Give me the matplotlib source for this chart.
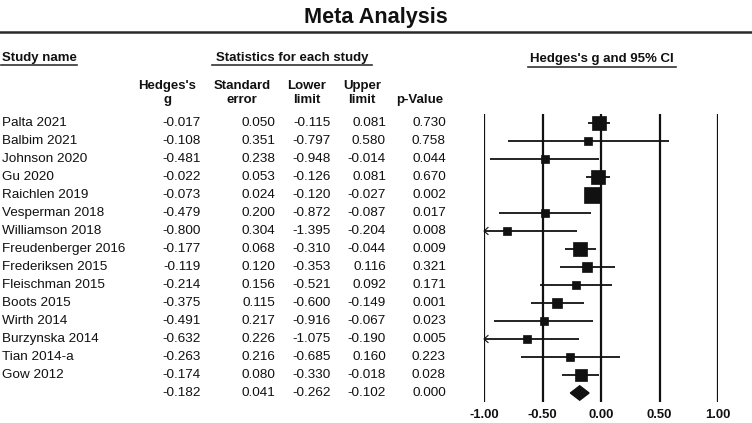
import numpy as np
import matplotlib
matplotlib.use("Agg")
import matplotlib.pyplot as plt
from matplotlib import transforms
from matplotlib.lines import Line2D
from matplotlib.patches import Polygon

plt.rcParams['font.family'] = ['Liberation Sans', 'DejaVu Sans']

# ---- data ----
studies = ["Palta 2021", "Balbim 2021", "Johnson 2020", "Gu 2020", "Raichlen 2019",
           "Vesperman 2018", "Williamson 2018", "Freudenberger 2016", "Frederiksen 2015",
           "Fleischman 2015", "Boots 2015", "Wirth 2014", "Burzynska 2014",
           "Tian 2014-a", "Gow 2012"]
hedges_g = [-0.017, -0.108, -0.481, -0.022, -0.073, -0.479, -0.800, -0.177, -0.119,
            -0.214, -0.375, -0.491, -0.632, -0.263, -0.174]
std_err = [0.050, 0.351, 0.238, 0.053, 0.024, 0.200, 0.304, 0.068, 0.120,
           0.156, 0.115, 0.217, 0.226, 0.216, 0.080]
lower = [-0.115, -0.797, -0.948, -0.126, -0.120, -0.872, -1.395, -0.310, -0.353,
         -0.521, -0.600, -0.916, -1.075, -0.685, -0.330]
upper = [0.081, 0.580, -0.014, 0.081, -0.027, -0.087, -0.204, -0.044, 0.116,
         0.092, -0.149, -0.067, -0.190, 0.160, -0.018]
p_value = [0.730, 0.758, 0.044, 0.670, 0.002, 0.017, 0.008, 0.009, 0.321,
           0.171, 0.001, 0.023, 0.005, 0.223, 0.028]
summary = {"g": -0.182, "se": 0.041, "lower": -0.262, "upper": -0.102, "p": 0.000}
x_ticks = [-1.0, -0.5, 0.0, 0.5, 1.0]

# ---- random-effects weights (tau^2 solved so that total weight matches summary SE) ----
se = np.array(std_err)
target = 1.0 / summary["se"] ** 2
lo, hi = 0.0, 1.0
for _ in range(100):
    mid = (lo + hi) / 2
    if np.sum(1.0 / (se ** 2 + mid)) > target:
        lo = mid
    else:
        hi = mid
tau2 = (lo + hi) / 2
weights = 1.0 / (se ** 2 + tau2)

W, H = 752, 423
fig = plt.figure(figsize=(W / 100, H / 100), dpi=100)
fig.patch.set_facecolor('white')

def fx(px):
    return px / W

def fy(py):
    return 1 - py / H

INK = '#111111'

# title and rule
fig.text(fx(376), fy(17), "Meta Analysis", ha='center', va='center',
         fontsize=15.6, fontweight='bold', color=INK)
fig.add_artist(Line2D([0, 1], [fy(32.5), fy(32.5)], color='#2a2a2a', lw=1.8))

# forest axes
ax = fig.add_axes([fx(484), fy(402), (718 - 484) / W, (402 - 114) / H])
ax.set_xlim(-1, 1)
n = len(studies)
ax.set_ylim(n + 0.5, -0.5)
ax.axis('off')

for xt in x_ticks:
    ax.axvline(xt, color=INK, lw=1.6, zorder=1)
    ax.text(xt, n + 1.2, f"{xt:.2f}", ha='center', va='center', fontsize=9.4,
            fontweight='bold', color=INK, clip_on=False)

px_x = 2.0 / (718 - 484)   # data units per pixel (x)
px_y = 1.0 / 18.0          # rows per pixel (y)
for i in range(n):
    l, u, g = lower[i], upper[i], hedges_g[i]
    x0 = max(l, -1)
    ax.plot([x0, min(u, 1)], [i, i], color=INK, lw=1.3, zorder=2,
            solid_capstyle='butt')
    if l < -1:
        # open chevron at the clipped end
        ax.plot([-1 + 4 * px_x, -1, -1 + 4 * px_x],
                [i - 3.5 * px_y, i, i + 3.5 * px_y],
                color=INK, lw=0.8, zorder=2, clip_on=False)
    side_px = max(7.5, 1.6 * np.sqrt(weights[i]))
    ax.plot(g, i, marker='s', markersize=side_px * 0.72, color=INK,
            markeredgewidth=0.5, markeredgecolor=INK, zorder=3)

# summary diamond
h = 0.4
ax.add_patch(Polygon([(summary["lower"], n), (summary["g"], n - h),
                      (summary["upper"], n), (summary["g"], n + h)],
                     closed=True, color=INK, zorder=3))

# table
tr = transforms.blended_transform_factory(fig.transFigure, ax.transData)
FS = 9.7
col_right = [fx(201), fx(275), fx(331), fx(386), fx(446)]
for i in range(n):
    ax.text(fx(2), i, studies[i], transform=tr, ha='left', va='center',
            fontsize=FS, color=INK)
    vals = [hedges_g[i], std_err[i], lower[i], upper[i], p_value[i]]
    for xr, v in zip(col_right, vals):
        ax.text(xr, i, f"{v:.3f}", transform=tr, ha='right', va='center',
                fontsize=FS, color=INK)
svals = [summary["g"], summary["se"], summary["lower"], summary["upper"], summary["p"]]
for xr, v in zip(col_right, svals):
    ax.text(xr, n, f"{v:.3f}", transform=tr, ha='right', va='center',
            fontsize=FS, color=INK)

# headers
HFS = 9.5
fig.text(fx(2), fy(58), "Study name", ha='left', va='center', fontsize=HFS,
         fontweight='bold', color=INK)
fig.add_artist(Line2D([fx(1), fx(77)], [fy(65.5), fy(65.5)], color='#333333', lw=1.2))
fig.text(fx(292), fy(58), "Statistics for each study", ha='center', va='center',
         fontsize=HFS, fontweight='bold', color=INK)
fig.add_artist(Line2D([fx(212), fx(372)], [fy(65.5), fy(65.5)], color='#333333', lw=1.2))
fig.text(fx(602), fy(59), "Hedges's g and 95% CI", ha='center', va='center',
         fontsize=HFS, fontweight='bold', color=INK)
fig.add_artist(Line2D([fx(528), fx(676)], [fy(66.5), fy(66.5)], color='#333333', lw=1.2))

heads = [(167, "Hedges's", "g"), (242, "Standard", "error"), (307, "Lower", "limit"),
         (362, "Upper", "limit"), (420, None, "p-Value")]
for xc, t1, t2 in heads:
    if t1:
        fig.text(fx(xc), fy(86), t1, ha='center', va='center', fontsize=HFS,
                 fontweight='bold', color=INK)
    fig.text(fx(xc), fy(100), t2, ha='center', va='center', fontsize=HFS,
             fontweight='bold', color=INK)

fig.savefig("out.png", dpi=100, facecolor='white')
